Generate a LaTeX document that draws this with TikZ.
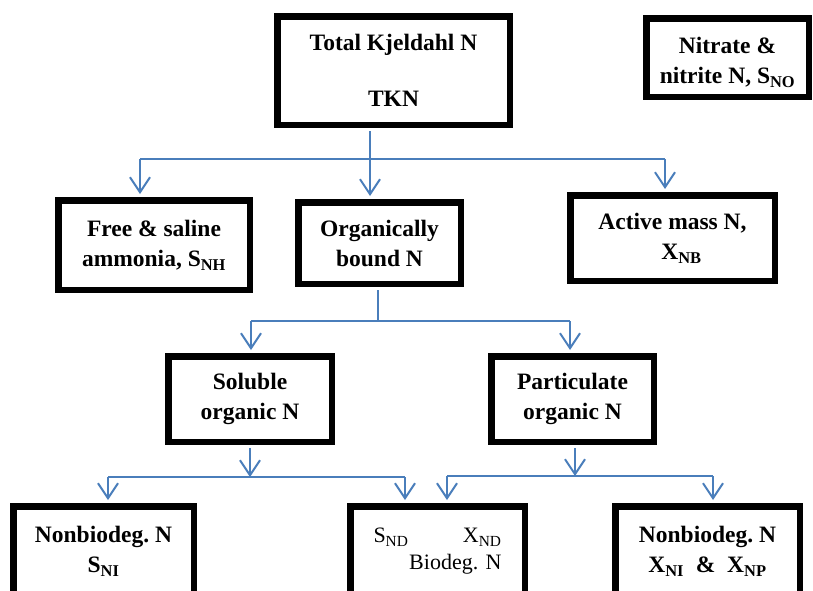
\documentclass[tikz,border=0pt]{standalone}
\usepackage{fontspec}
\setmainfont{Liberation Serif}
\usetikzlibrary{arrows.meta}
\definecolor{linkblue}{RGB}{74,126,187}
\tikzset{
  box/.style={draw=black,line width=6.5pt,align=center,inner sep=0pt,
    font=\bfseries\fontsize{23.5}{30}\selectfont},
  link/.style={draw=linkblue,line width=1.8pt},
  arr/.style={link,line width=2pt,-{Straight Barb[length=15pt,width=20pt]}},
  into/.style={arr,shorten >=3pt},
  stem/.style={shorten <=3pt}
}
\begin{document}
\begin{tikzpicture}[x=1pt,y=-1pt]
        \useasboundingbox (0,0) rectangle (813,590);
        % boxes
        \node[box,minimum width=232.5pt,minimum height=108.5pt] (tkn) at (393.5,70.5) {Total Kjeldahl N\\[26pt]TKN};
        \node[box,minimum width=162.5pt,minimum height=78.5pt] (nitrate) at (727.5,57.5) {\rule{0pt}{26pt}Nitrate \&\\nitrite N, S\textsubscript{NO}};
        \node[box,minimum width=191.5pt,minimum height=89.5pt] (free) at (154,245) {Free \& saline\\ammonia, S\textsubscript{NH}};
        \node[box,minimum width=162.5pt,minimum height=81.5pt] (organic) at (379.5,243) {Organically\\bound N};
        \node[box,minimum width=204.5pt,minimum height=85.5pt] (active) at (672.5,238) {Active mass N,\\\hspace*{18pt}X\textsubscript{NB}};
        \node[box,minimum width=163.5pt,minimum height=85.5pt] (soluble) at (250,399) {Soluble\\organic N};
        \node[box,minimum width=162.5pt,minimum height=85.5pt] (partic) at (572.5,399) {Particulate\\organic N};
        \node[box,minimum width=180.5pt,minimum height=90.5pt] (nonbs) at (103.5,551.5) {Nonbiodeg.\ N\\S\textsubscript{NI}};
        \node[box,minimum width=174.5pt,minimum height=90.5pt,text width=128pt,align=right,
              font=\fontsize{22}{27}\selectfont] (biodeg) at (437.5,551.5) {S\textsubscript{ND}\hfill X\textsubscript{ND}\\Biodeg.\ N};
        \node[box,minimum width=184.5pt,minimum height=90.5pt] (nonbx) at (707.5,551.5) {Nonbiodeg.\ N\\X\textsubscript{NI}\ \ \& \ X\textsubscript{NP}};
        % branch points
        \coordinate (t0) at (370,159);
        \coordinate (tl) at (140,159);
        \coordinate (tr) at (665,159);
        \coordinate (o0) at (378,321);
        \coordinate (ol) at (251,321);
        \coordinate (or) at (570,321);
        \coordinate (s0) at (250,477);
        \coordinate (sl) at (108,477);
        \coordinate (sr) at (405,477);
        \coordinate (p0) at (575,476);
        \coordinate (pl) at (447,476);
        \coordinate (pr) at (713,476);
        % connectors
        \draw[link,stem] (tkn.south -| t0) -- (t0);
        \draw[link] (tl) -- (tr);
        \draw[into] (tl) -- (tl |- free.north);
        \draw[into] (t0) -- (t0 |- organic.north);
        \draw[into] (tr) -- (tr |- active.north);
        \draw[link,stem] (organic.south -| o0) -- (o0);
        \draw[link] (ol) -- (or);
        \draw[into] (ol) -- (ol |- soluble.north);
        \draw[into] (or) -- (or |- partic.north);
        \draw[arr,stem] (soluble.south -| s0) -- (s0);
        \draw[link] (sl) -- (sr);
        \draw[into] (sl) -- (sl |- nonbs.north);
        \draw[into] (sr) -- (sr |- biodeg.north);
        \draw[arr,stem] (partic.south -| p0) -- (p0);
        \draw[link] (pl) -- (pr);
        \draw[into] (pl) -- (pl |- biodeg.north);
        \draw[into] (pr) -- (pr |- nonbx.north);
\end{tikzpicture}
\end{document}
